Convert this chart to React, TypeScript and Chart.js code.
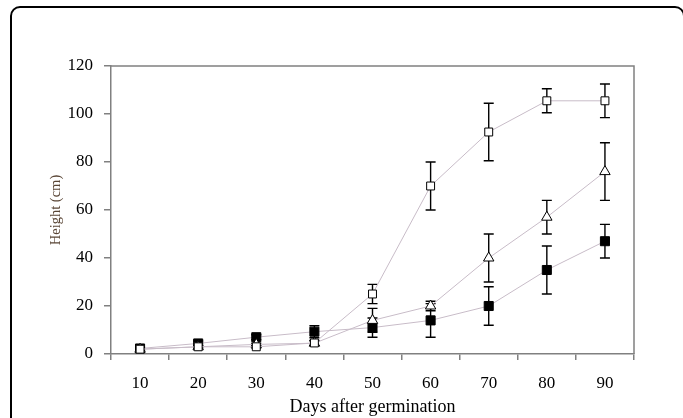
import React, { useEffect, useRef } from "react";
import { Chart, registerables } from "chart.js";

Chart.register(...registerables);

const days = ["10", "20", "30", "40", "50", "60", "70", "80", "90"];
const openSquare = [2, 3, 3, 4.6, 25, 70, 92.5, 105.5, 105.5];
const openSquareErr = [0.5, 0.5, 0.5, 1, 4, 10, 12, 5, 7];
const triangle = [2, 3, 4, 4.5, 14, 20, 40, 57, 76];
const triangleErr = [0, 0.5, 0.5, 1, 5, 2, 10, 7, 12];
const filledSquare = [2.3, 4.4, 7, 9.3, 11, 14, 20, 35, 47];
const filledSquareErr = [0.5, 1, 1, 2.5, 4, 7, 8, 10, 7];
const yTicks = [0, 20, 40, 60, 80, 100, 120];

const errors = [openSquareErr, triangleErr, filledSquareErr];

const errorBarPlugin = {
  id: "errorBars",
  beforeDatasetsDraw(chart: any) {
    const ctx = chart.ctx;
    const yScale = chart.scales.y;
    ctx.save();
    ctx.strokeStyle = "#000";
    ctx.lineWidth = 1.4;
    chart.data.datasets.forEach((ds: any, di: number) => {
      const meta = chart.getDatasetMeta(di);
      const errs = errors[di];
      meta.data.forEach((pt: any, i: number) => {
        const e = errs[i];
        if (!e) return;
        const v = ds.data[i];
        const x = pt.x;
        const yTop = yScale.getPixelForValue(v + e);
        const yBot = yScale.getPixelForValue(v - e);
        ctx.beginPath();
        ctx.moveTo(x, yTop);
        ctx.lineTo(x, yBot);
        ctx.moveTo(x - 5, yTop);
        ctx.lineTo(x + 5, yTop);
        ctx.moveTo(x - 5, yBot);
        ctx.lineTo(x + 5, yBot);
        ctx.stroke();
      });
    });
    ctx.restore();
  },
};

const boxPlugin = {
  id: "plotBox",
  afterDraw(chart: any) {
    const { ctx, chartArea } = chart;
    ctx.save();
    ctx.strokeStyle = "#808080";
    ctx.lineWidth = 1.5;
    ctx.beginPath();
    ctx.moveTo(chartArea.left, chartArea.top);
    ctx.lineTo(chartArea.right, chartArea.top);
    ctx.lineTo(chartArea.right, chartArea.bottom);
    ctx.stroke();
    ctx.restore();
  },
};

export default function App() {
  const ref = useRef<HTMLCanvasElement>(null);
  useEffect(() => {
    if (!ref.current) return;
    const lineColor = "#c8bcc8";
    const chart = new Chart(ref.current, {
      type: "line",
      data: {
        labels: days,
        datasets: [
          {
            data: openSquare,
            borderColor: lineColor,
            borderWidth: 1,
            pointStyle: "rect",
            pointRadius: 5.6,
            pointBackgroundColor: "#fff",
            pointBorderColor: "#000",
            pointBorderWidth: 1,
          },
          {
            data: triangle,
            borderColor: lineColor,
            borderWidth: 1,
            pointStyle: "triangle",
            pointRadius: 6,
            pointBackgroundColor: "#fff",
            pointBorderColor: "#000",
            pointBorderWidth: 1,
          },
          {
            data: filledSquare,
            borderColor: lineColor,
            borderWidth: 1,
            pointStyle: "rect",
            pointRadius: 6.4,
            pointBackgroundColor: "#000",
            pointBorderColor: "#000",
            pointBorderWidth: 1,
          },
        ],
      },
      options: {
        animation: false,
        responsive: false,
        layout: { padding: { top: 66, right: 49, left: 0, bottom: 0 } },
        plugins: {
          legend: { display: false },
          tooltip: { enabled: false },
        },
        scales: {
          x: {
            type: "category",
            offset: true,
            grid: {
              offset: true,
              drawOnChartArea: false,
              drawTicks: true,
              tickLength: 6,
              color: "#808080",
              lineWidth: 1.5,
            },
            border: { color: "#808080", width: 1.5 },
            ticks: {
              color: "#000",
              padding: 13,
              font: { family: "'Liberation Serif', serif", size: 17 },
            },
            title: {
              display: true,
              text: "Days after germination",
              color: "#000",
              font: { family: "'Liberation Serif', serif", size: 18, lineHeight: 1.2 },
              padding: { top: 0, bottom: 0 },
            },
            afterFit: (scale: any) => {
              scale.height = 64;
            },
          },
          y: {
            min: 0,
            max: 120,
            afterBuildTicks: (scale: any) => {
              scale.ticks = yTicks.map((v) => ({ value: v }));
            },
            grid: {
              drawOnChartArea: false,
              drawTicks: true,
              tickLength: 7,
              color: "#808080",
              lineWidth: 1.5,
            },
            border: { color: "#808080", width: 1.5 },
            ticks: {
              color: "#000",
              padding: 11,
              font: { family: "'Liberation Serif', serif", size: 17 },
            },
            title: {
              display: true,
              text: "Height (cm)",
              color: "#5a4636",
              font: { family: "'Liberation Serif', serif", size: 14.5, lineHeight: 1.2 },
              padding: { top: 47, bottom: 0 },
            },
            afterFit: (scale: any) => {
              scale.width = 111;
            },
          },
        },
      },
      plugins: [errorBarPlugin, boxPlugin],
    });
    return () => chart.destroy();
  }, []);

  return (
    <>
      <div
        style={{
          position: "fixed",
          left: 10,
          top: 6,
          width: 675,
          height: 440,
          boxSizing: "border-box",
          border: "2px solid #000",
          borderRadius: 10,
        }}
      />
      <div style={{ position: "fixed", left: 0, top: 0, width: 683, height: 418 }}>
        <canvas ref={ref} width={683} height={418} style={{ width: 683, height: 418, display: "block" }} />
      </div>
    </>
  );
}
